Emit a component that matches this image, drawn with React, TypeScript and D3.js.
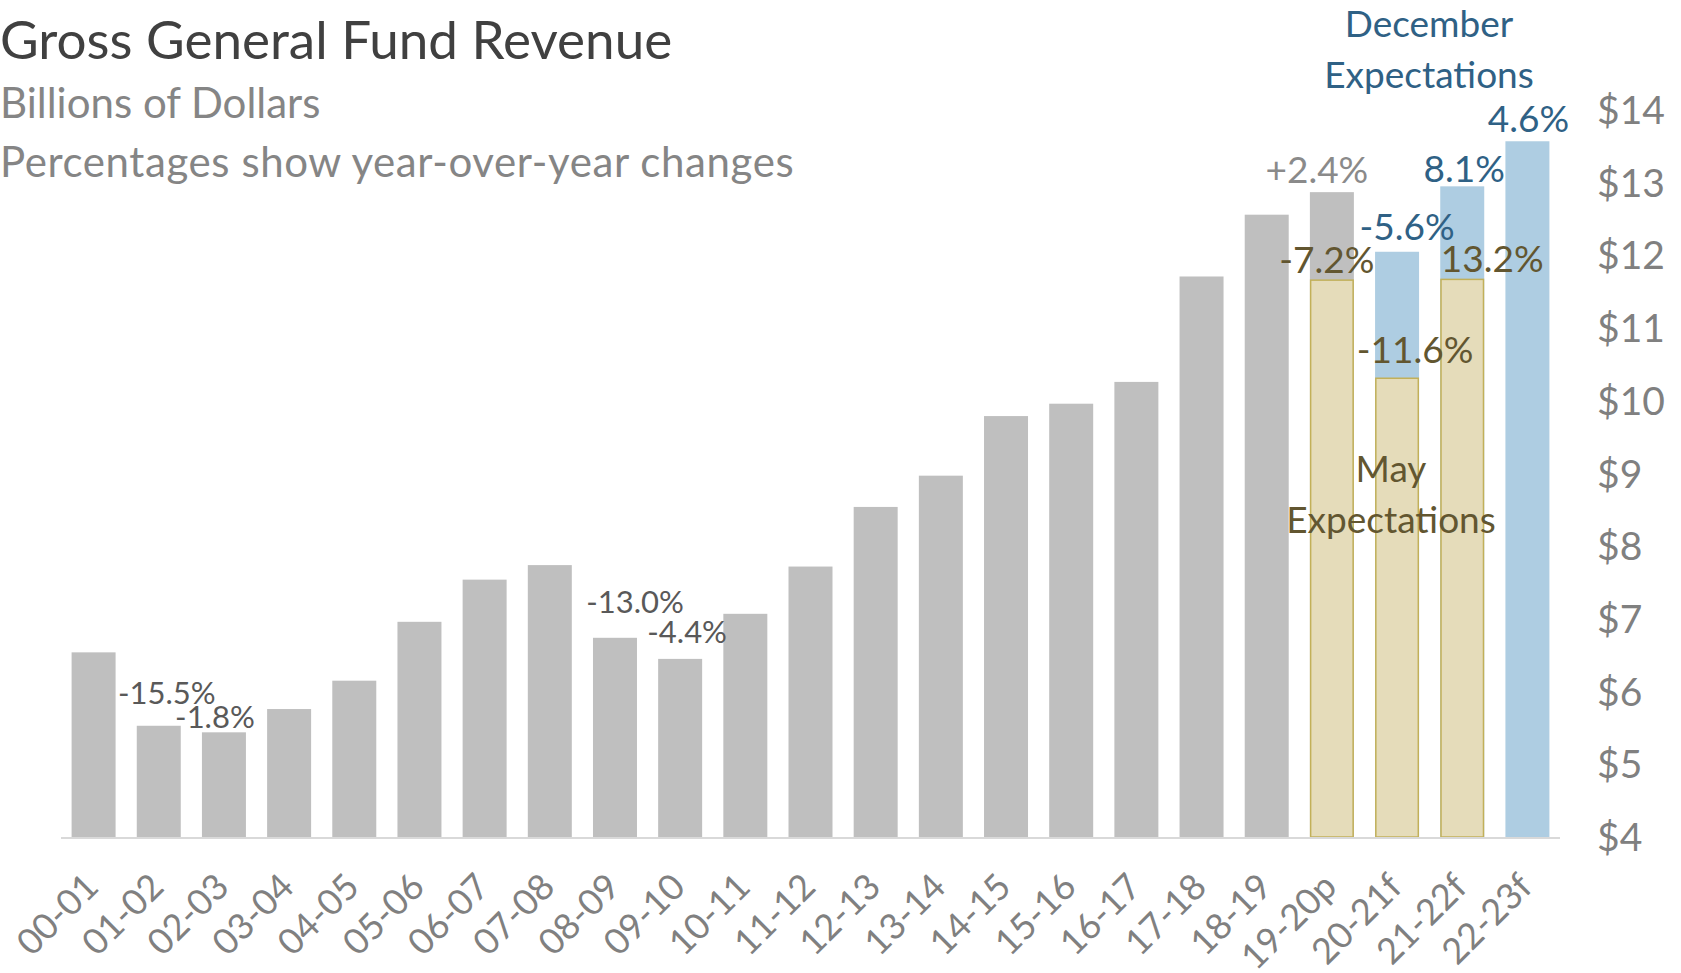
import React from 'react'
import * as d3 from 'd3'

const categories = ['00-01', '01-02', '02-03', '03-04', '04-05', '05-06', '06-07', '07-08', '08-09', '09-10', '10-11', '11-12',
  '12-13', '13-14', '14-15', '15-16', '16-17', '17-18', '18-19', '19-20p', '20-21f', '21-22f', '22-23f']

// actuals (grey), december forecast (blue), may forecast (tan, drawn on top)
const actual = [6.54, 5.53, 5.44, 5.76, 6.15, 6.96, 7.54, 7.74, 6.74, 6.45, 7.07, 7.72,
  8.54, 8.97, 9.79, 9.96, 10.26, 11.71, 12.56, 12.87, null, null, null]
const december = [null, null, null, null, null, null, null, null, null, null, null, null,
  null, null, null, null, null, null, null, null, 12.05, 12.95, 13.57]
const may = [null, null, null, null, null, null, null, null, null, null, null, null,
  null, null, null, null, null, null, null, 11.66, 10.31, 11.67, null]

const yTicks = [4, 5, 6, 7, 8, 9, 10, 11, 12, 13, 14]

// percentage labels: category, series, text
const pctCats = ['01-02', '02-03', '08-09', '09-10', '19-20p', '19-20p', '20-21f', '20-21f', '21-22f', '21-22f', '22-23f']
const pctSeries = ['actual', 'actual', 'actual', 'actual', 'actual', 'may', 'december', 'may', 'december', 'may', 'december']
const pctText = ['-15.5%', '-1.8%', '-13.0%', '-4.4%', '+2.4%', '-7.2%', '-5.6%', '-11.6%', '8.1%', '13.2%', '4.6%']

// nudges for the labels (px), same order as pctText
const pctNudge = [[8, -22], [-9, -4], [20, -25], [7, -16], [-15, -9], [-5, -7], [10, -12], [18, -15], [2, -4], [30, -7], [1, -9]]

const FONT = 'Lato, "Noto Sans", sans-serif'
const GREY_BAR = '#bfbfbf'
const BLUE_BAR = '#aecde2'
const MAY_FILL = '#e5dcba'
const MAY_LINE = '#c2b059'
const BLUE_TEXT = '#2f6185'
const MAY_TEXT = '#625630'

export default function App() {
  const width = 1681
  const height = 973

  const x = d3.scaleBand()
    .domain(categories)
    .range([61, 1560])
    .paddingInner(0.325)
    .paddingOuter(0.1625)
  const y = d3.scaleLinear().domain([4, 14]).range([837, 110])

  const bw = x.bandwidth()
  const series = { actual, december, may }

  const bars = (vals, fill, stroke) => vals.map((v, i) => v == null ? null : (
    <rect key={categories[i]}
      x={x(categories[i])! + (stroke ? 0.75 : 0)}
      y={y(v)}
      width={bw - (stroke ? 1.5 : 0)}
      height={y(4) - y(v)}
      fill={fill}
      stroke={stroke || 'none'}
      strokeWidth={stroke ? 1.5 : 0} />
  ))

  const pctColor = (s, i) => {
    if (s === 'december') return BLUE_TEXT
    if (s === 'may') return MAY_TEXT
    return pctText[i] === '+2.4%' ? '#8a8a8a' : '#595959'
  }

  const cx = (c) => x(c)! + bw / 2

  return (
    <svg width={width} height={height} style={{ position: 'absolute', left: 0, top: 0, background: '#fff' }}
      fontFamily={FONT}>
      <text x={0} y={59} fontSize={53} fill="#404040">Gross General Fund Revenue</text>
      <text x={0} y={118} fontSize={42} fill="#858585">Billions of Dollars</text>
      <text x={0} y={177} fontSize={42} fill="#858585" letterSpacing={0.6}>Percentages show year-over-year changes</text>

      <g>
        {bars(actual, GREY_BAR)}
        {bars(december, BLUE_BAR)}
        {bars(may, MAY_FILL, MAY_LINE)}
      </g>

      <line x1={61} x2={1560} y1={y(4) + 1} y2={y(4) + 1} stroke="#d9d9d9" strokeWidth={2} />

      {yTicks.map(t => (
        <text key={t} x={1597} y={y(t)} dy="0.36em" fontSize={39} fill="#808080">${t}</text>
      ))}

      {categories.map(c => (
        <text key={c} transform={`translate(${cx(c) + 7},${889}) rotate(-45)`}
          textAnchor="end" fontSize={36} fill="#808080">{c}</text>
      ))}

      {pctText.map((t, i) => {
        const c = pctCats[i]
        const s = pctSeries[i]
        const v = series[s][categories.indexOf(c)]
        const left = i < 4
        return (
          <text key={i} x={cx(c) + pctNudge[i][0]} y={y(v) + pctNudge[i][1]}
            textAnchor="middle" fontSize={left ? 31 : 37} fill={pctColor(s, i)}>{t}</text>
        )
      })}

      <text x={1429} y={37} textAnchor="middle" fontSize={37} fill={BLUE_TEXT}>December</text>
      <text x={1429} y={88} textAnchor="middle" fontSize={37} fill={BLUE_TEXT}>Expectations</text>

      <text x={1391} y={482} textAnchor="middle" fontSize={37} fill={MAY_TEXT}>May</text>
      <text x={1391} y={533} textAnchor="middle" fontSize={37} fill={MAY_TEXT}>Expectations</text>
    </svg>
  )
}
